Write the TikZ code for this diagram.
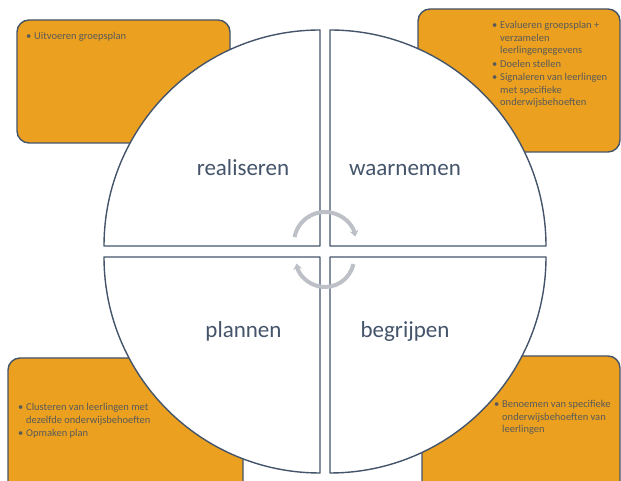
\documentclass[tikz,border=0pt]{standalone}
\usepackage{fontspec}
\setmainfont{Carlito}
\usetikzlibrary{arrows.meta}
\definecolor{boxorange}{HTML}{EBA11F}
\definecolor{slate}{HTML}{44546A}
\definecolor{cyclegray}{HTML}{BDC1C7}
\definecolor{bullettext}{HTML}{595959}
\newcommand\bitem[1]{\par\hyphenpenalty=10000\exhyphenpenalty=10000\hangindent=8pt\hangafter=1\noindent\makebox[8pt][l]{\textbullet}#1\par\vspace{1pt}}
\begin{document}
\begin{tikzpicture}[x=1pt, y=1pt, line join=round,
  box/.style={fill=boxorange, draw=slate, line width=1.4pt, rounded corners=12pt},
  quad/.style={fill=white, draw=slate, line width=1.4pt},
  phase/.style={anchor=base, text=slate, font=\fontsize{23}{27}\selectfont},
  bullets/.style={anchor=north west, inner sep=0pt, align=flush left, text=bullettext,
    font=\fontsize{10.5}{12.5}\selectfont},
  cycle/.style={draw=cyclegray, line width=4pt, -{Stealth[length=6pt, width=9pt]}}]
 \useasboundingbox (0,0) rectangle (621,481);
 \clip (0,0) rectangle (621,481);
 % orange boxes behind the circle
 \draw[box] (17,461) rectangle (230,338);
 \draw[box] (418,472) rectangle (620,329);
 \draw[box] (8,123) rectangle (243,-20);
 \draw[box] (422,125) rectangle (620,-20);
 % four quarters
 \foreach \cx/\cy/\a in {320/235/180, 330/235/90, 330/224/0, 320/224/270}
  \draw[quad] (\cx,\cy) -- ++(\a:216) arc[start angle=\a, delta angle=-90, radius=216] -- cycle;
 \node[phase] (realiseren) at (243,305) {realiseren};
 \node[phase] (waarnemen) at (405,305) {waarnemen};
 \node[phase] (plannen) at (243.5,143) {plannen};
 \node[phase] (begrijpen) at (405,143) {begrijpen};
 % cycle arrows
 \draw[cycle] (325,238) ++(169:31) arc[start angle=169, end angle=12, radius=31];
 \draw[cycle] (325,223) ++(-12:29) arc[start angle=-12, end angle=-169, radius=29];
 % box texts
 \node[bullets, text width=205pt] (uitvoeren) at (26,454) {\bitem{Uitvoeren groepsplan}};
 \node[bullets, text width=120pt] (evalueren) at (492,465) {%
  \bitem{Evalueren groepsplan + verzamelen leerlingengegevens}%
  \bitem{Doelen stellen}%
  \bitem{Signaleren van leerlingen met specifieke onderwijsbehoeften}};
 \node[bullets, text width=137pt] (clusteren) at (18,83) {%
  \bitem{Clusteren van leerlingen met dezelfde onderwijsbehoeften}%
  \bitem{Opmaken plan}};
 \node[bullets, text width=121pt] (benoemen) at (494,86) {%
  \bitem{Benoemen van specifieke onderwijsbehoeften van leerlingen}};
\end{tikzpicture}
\end{document}
